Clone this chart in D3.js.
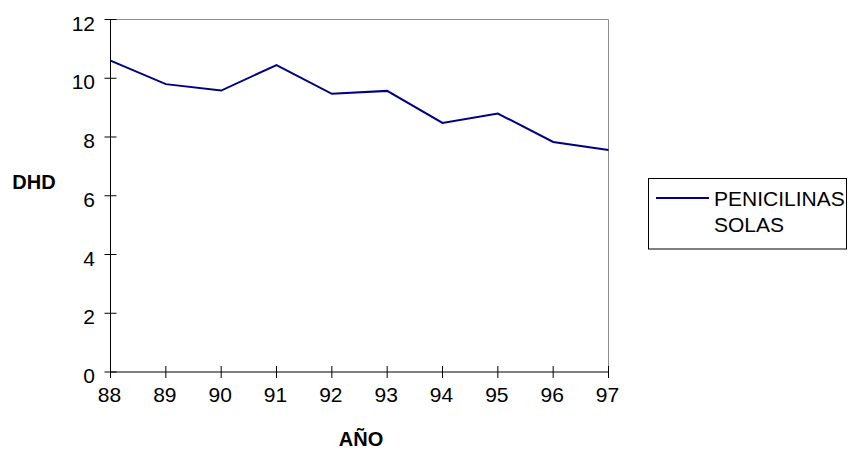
<!DOCTYPE html>
<html>
<head>
<meta charset="utf-8">
<script src="https://cdn.jsdelivr.net/npm/d3@7"></script>
<style>
  html, body { margin: 0; padding: 0; background: #fff; }
  svg { display: block; font-family: "Liberation Sans", Arial, sans-serif; }
</style>
</head>
<body>
<svg id="chart" width="849" height="450"></svg>
<script>
// Years (two-digit labels) and yearly consumption in DHD
const years = ["88", "89", "90", "91", "92", "93", "94", "95", "96", "97"];
const dhd = [10.6, 9.8, 9.58, 10.45, 9.47, 9.57, 8.48, 8.8, 7.83, 7.56];
const yTicks = [0, 2, 4, 6, 8, 10, 12];
const seriesName = ["PENICILINAS", "SOLAS"];

const svg = d3.select("#chart");

const plot = { left: 110.5, right: 608.5, top: 19.5, bottom: 372 };

const x = d3.scalePoint()
  .domain(years)
  .range([plot.left, plot.right]);

const y = d3.scaleLinear()
  .domain([0, 12])
  .range([plot.bottom, plot.top]);

// Top and right frame of the plot area
svg.append("path")
  .attr("d", `M${plot.left},${plot.top}H${plot.right}V${plot.bottom}`)
  .attr("fill", "none")
  .attr("stroke", "#8c8c8c")
  .attr("stroke-width", 1);

// Y axis: ticks crossing the axis line, labels to the left
const yAxis = svg.append("g");
yAxis.append("line")
  .attr("x1", plot.left).attr("x2", plot.left)
  .attr("y1", plot.top).attr("y2", plot.bottom)
  .attr("stroke", "#000");
yAxis.selectAll("line.tick")
  .data(yTicks)
  .join("line")
  .attr("class", "tick")
  .attr("x1", plot.left - 6).attr("x2", plot.left + 6)
  .attr("y1", d => y(d)).attr("y2", d => y(d))
  .attr("stroke", "#000");
yAxis.selectAll("text")
  .data(yTicks)
  .join("text")
  .attr("x", 95)
  .attr("y", d => y(d) + 11)
  .attr("text-anchor", "end")
  .attr("font-size", 21)
  .attr("fill", "#000")
  .text(d => d);

// X axis: ticks crossing the axis line, labels below
const xAxis = svg.append("g");
xAxis.append("line")
  .attr("x1", plot.left).attr("x2", plot.right)
  .attr("y1", plot.bottom).attr("y2", plot.bottom)
  .attr("stroke", "#000");
xAxis.selectAll("line.tick")
  .data(years)
  .join("line")
  .attr("class", "tick")
  .attr("x1", d => x(d)).attr("x2", d => x(d))
  .attr("y1", plot.bottom - 6).attr("y2", plot.bottom + 6)
  .attr("stroke", "#000");
xAxis.selectAll("text")
  .data(years)
  .join("text")
  .attr("x", d => x(d) - 1)
  .attr("y", 401.5)
  .attr("text-anchor", "middle")
  .attr("font-size", 21)
  .attr("fill", "#000")
  .text(d => d);

// Series line
const line = d3.line()
  .x((d, i) => x(years[i]))
  .y(d => y(d));

svg.append("path")
  .datum(dhd)
  .attr("d", line)
  .attr("fill", "none")
  .attr("stroke", "#000080")
  .attr("stroke-width", 2)
  .attr("stroke-linejoin", "miter");

// Axis titles
svg.append("text")
  .attr("x", 34)
  .attr("y", 188.5)
  .attr("text-anchor", "middle")
  .attr("font-size", 20)
  .attr("font-weight", "bold")
  .text("DHD");

svg.append("text")
  .attr("x", 361)
  .attr("y", 446)
  .attr("text-anchor", "middle")
  .attr("font-size", 20)
  .attr("font-weight", "bold")
  .text("AÑO");

// Legend
const legend = svg.append("g");
legend.append("rect")
  .attr("x", 648.5).attr("y", 178.5)
  .attr("width", 198).attr("height", 70.5)
  .attr("fill", "#fff")
  .attr("stroke", "#000")
  .attr("stroke-width", 1);
legend.append("line")
  .attr("x1", 656).attr("x2", 709)
  .attr("y1", 198).attr("y2", 198)
  .attr("stroke", "#000080")
  .attr("stroke-width", 2);
legend.selectAll("text")
  .data(seriesName)
  .join("text")
  .attr("x", 714)
  .attr("y", (d, i) => 206 + i * 26)
  .attr("font-size", 21)
  .attr("fill", "#000")
  .text(d => d);
</script>
</body>
</html>
